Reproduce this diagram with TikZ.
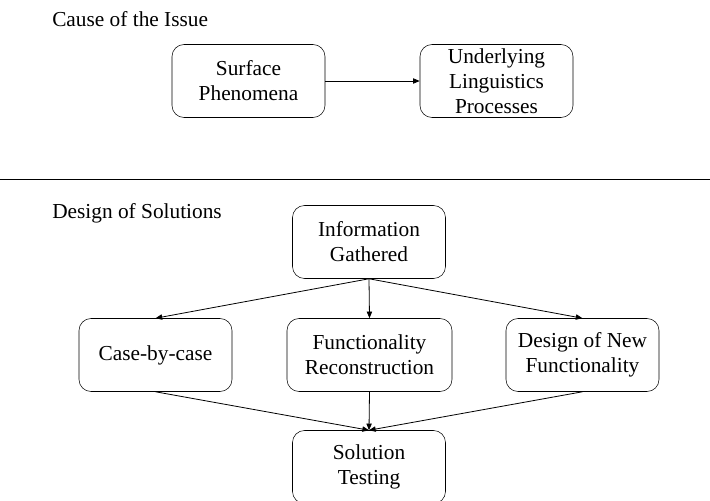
\documentclass[tikz,border=0pt]{standalone}
\usepackage{fontspec}
\setmainfont{Liberation Serif}
\usetikzlibrary{arrows.meta}

\tikzset{
  stepbox/.style={draw, rounded corners=9pt, minimum width=114.75pt, minimum height=54.75pt,
    align=center, font=\fontsize{16}{18.75}\selectfont, inner sep=2pt},
  title/.style={anchor=west, font=\fontsize{16}{18.75}\selectfont, inner sep=0pt},
  flow/.style={-{Triangle[length=5pt,width=4pt]}, line width=0.6pt}
}

\begin{document}
\begin{tikzpicture}[x=0.75pt, y=-0.75pt]
  \useasboundingbox (0,0) rectangle (710,500);
  \node[title] (cause) at (52,19) {Cause of the Issue};
  \node[stepbox] (surface) at (248.5,81) {Surface\\Phenomena};
  \node[stepbox] (under) at (496.5,81) {Underlying\\Linguistics\\Processes};
  \draw[flow] (surface) -- (under);

  \draw[line width=0.6pt] (0,179) coordinate (sepl) -- (710,179) coordinate (sepr);

  \node[title] (design) at (52,213) {Design of Solutions};
  \node[stepbox] (info) at (369,242) {Information\\Gathered};
  \node[stepbox] (case) at (155.5,355) {Case-by-case};
  \node[stepbox, minimum width=123.75pt] (recon) at (369.5,355) {Functionality\\Reconstruction};
  \node[stepbox] (newf) at (582.5,355) {Design of New\\Functionality};
  \node[stepbox] (test) at (369,467) {Solution\\Testing};

  \foreach \n in {case, recon, newf} {
    \draw[flow] (info.south) -- (\n.north);
    \draw[flow] (\n.south) -- (test.north);
  }
\end{tikzpicture}
\end{document}
